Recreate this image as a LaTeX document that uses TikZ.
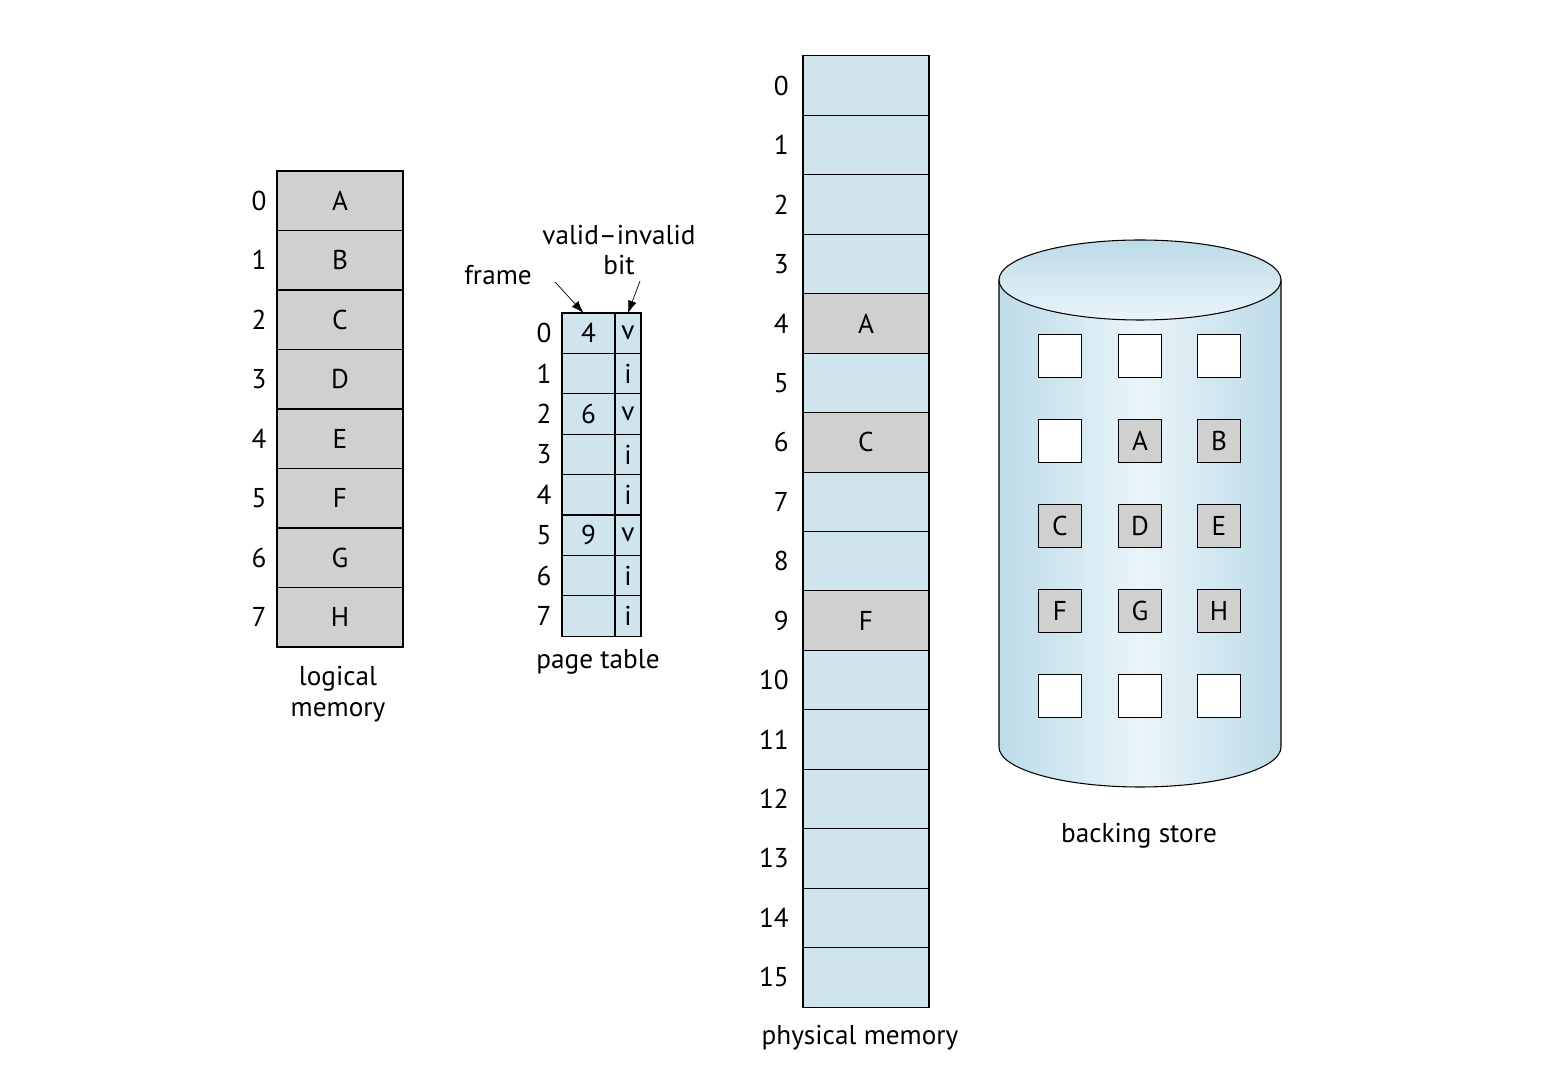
\documentclass[tikz,border=0pt]{standalone}
\usepackage{fontspec}
\setmainfont{PT Sans}
\usetikzlibrary{arrows.meta,positioning}
\definecolor{memblue}{RGB}{207,228,237}
\definecolor{memgray}{RGB}{208,208,208}
\definecolor{cylblue}{RGB}{188,219,232}
\definecolor{cyllight}{RGB}{234,244,249}

\begin{document}
\begin{tikzpicture}[x=0.02cm,y=-0.02cm,>={Latex[length=7pt,width=5pt]},
  font=\fontsize{15.5}{17.5}\selectfont,
  memcell/.style={draw,line width=0.6pt,minimum width=2.52cm,minimum height=1.19cm,inner sep=0pt,outer sep=0pt},
  ptcell/.style={draw,line width=0.6pt,fill=memblue,minimum height=0.808cm,inner sep=0pt,outer sep=0pt},
  disk/.style={draw,line width=0.6pt,minimum size=0.86cm,inner sep=0pt}]
\useasboundingbox (0,0) rectangle (1546,1070);

% logical memory
\foreach \l [count=\i from 0] in {A,B,C,D,E,F,G,H} {
  \node[memcell,fill=memgray] (lm\i) at (340,{171+59.5*(\i+0.5)}) {\l};
  \node (lmn\i) at (259,{171+59.5*(\i+0.5)}) {\i};
}
\node[align=center] (lmcap) at (338,694) {logical\\memory};

% page table
\foreach \f/\b [count=\i from 0] in {4/v,{}/i,6/v,{}/i,{}/i,9/v,{}/i,{}/i} {
  \node[ptcell,minimum width=1.06cm] (pf\i) at (588.5,{313+40.4*(\i+0.5)}) {\f};
  \node[ptcell,minimum width=0.52cm] (pb\i) at (628,{313+40.4*(\i+0.5)}) {\b};
  \node (ptn\i) at (544,{313+40.4*(\i+0.5)}) {\i};
}
\node (ptcap) at (598,662) {page table};
\node (framelbl) at (498,275) {frame};
\node[align=center] (vilbl) at (619,250) {valid–invalid\\bit};
\coordinate (frametail) at (555,282);
\coordinate (vitail) at (640,281);
\draw[->] (frametail) -- ([xshift=-0.1cm]pf0.north);
\draw[->] (vitail) -- (pb0.north);

% physical memory
\foreach \i in {0,...,15} {
  \node[memcell,fill=memblue] (pm\i) at (866,{56+59.44*(\i+0.5)}) {};
  \node[anchor=east] (pmn\i) at (795,{56+59.44*(\i+0.5)}) {\i};
}
\foreach \i/\l in {4/A,6/C,9/F} {
  \node[memcell,fill=memgray] at (pm\i) {\l};
}
\node (pmcap) at (860,1038) {physical memory};

% backing store
\path[draw,line width=0.6pt,left color=cylblue,right color=cylblue,middle color=cyllight]
  (999,280) -- (999,747) arc[start angle=180,end angle=0,x radius=141,y radius=40] -- (1281,280) -- cycle;
\path[draw,line width=0.6pt,top color=cylblue,bottom color=cyllight]
  (1140,280) ellipse[x radius=141,y radius=40];
\foreach \a/\fa/\b/\fb/\c/\fc [count=\r from 0] in {
    {}/white/{}/white/{}/white,
    {}/white/A/memgray/B/memgray,
    C/memgray/D/memgray/E/memgray,
    F/memgray/G/memgray/H/memgray,
    {}/white/{}/white/{}/white} {
  \node[disk,fill=\fa] (bs\r a) at (1060,{356+85*\r}) {\a};
  \node[disk,fill=\fb] (bs\r b) at (1140,{356+85*\r}) {\b};
  \node[disk,fill=\fc] (bs\r c) at (1219,{356+85*\r}) {\c};
}
\node (bscap) at (1139,836) {backing store};
\end{tikzpicture}
\end{document}
